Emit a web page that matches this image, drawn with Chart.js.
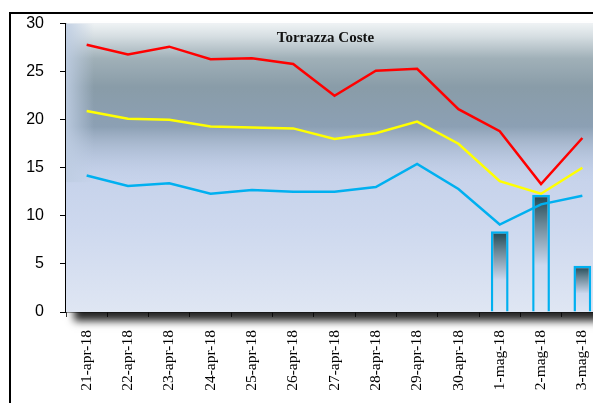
<!DOCTYPE html>
<html>
<head>
<meta charset="utf-8">
<script src="https://cdn.jsdelivr.net/npm/chart.js@4/dist/chart.umd.min.js"></script>
<style>
  body { margin: 0; overflow: hidden; background: #fff; }
  #cornice {
    position: absolute; left: 9px; top: 12px; width: 700px; height: 420px;
    border-left: 2px solid #000; border-top: 2px solid #000;
  }
  #grafico { position: absolute; left: 0; top: -16px; }
</style>
</head>
<body>
<div id="cornice"><canvas id="grafico" width="605" height="405"></canvas></div>
<script>

/* Dati del grafico Torrazza Coste */

var giorni = ['21-apr-18', '22-apr-18', '23-apr-18', '24-apr-18', '25-apr-18', '26-apr-18', '27-apr-18',
              '28-apr-18', '29-apr-18', '30-apr-18', '1-mag-18', '2-mag-18', '3-mag-18'];

var temp_max = [27.8, 26.8, 27.6, 26.3, 26.4, 25.8, 22.5, 25.1, 25.3, 21.1, 18.8, 13.3, 18.1];
var temp_media = [20.9, 20.1, 20.0, 19.3, 19.2, 19.1, 18.0, 18.6, 19.8, 17.5, 13.6, 12.3, 15.0];
var temp_min = [14.2, 13.1, 13.4, 12.3, 12.7, 12.5, 12.5, 13.0, 15.4, 12.8, 9.1, 11.2, 12.1];
var pioggia = [null, null, null, null, null, null, null, null, null, null, 8.4, 12.2, 4.8];

var tacche_y = [0, 5, 10, 15, 20, 25, 30];
var titolo = 'Torrazza Coste';


/* Sfondo dell'area del grafico con ombra e sfumature */

var sfondo = {
  id: 'sfondo',
  beforeDatasetsDraw: function (chart) {
    var ctx = chart.ctx;
    var a = chart.chartArea;
    var w = a.right - a.left;
    var h = a.bottom - a.top;
    ctx.save();

    // ombra sotto l'area
    ctx.shadowColor = 'rgba(0,0,0,0.85)';
    ctx.shadowBlur = 8;
    ctx.shadowOffsetX = 8;
    ctx.shadowOffsetY = 9;
    var base = ctx.createLinearGradient(0, a.top, 0, a.bottom);
    base.addColorStop(0, '#d6dfe8');
    base.addColorStop(0.45, '#c3d0e9');
    base.addColorStop(0.7, '#cdd8ee');
    base.addColorStop(1, '#dfe6f3');
    ctx.fillStyle = base;
    ctx.fillRect(a.left, a.top, w, h);
    ctx.shadowColor = 'transparent';

    // parte scura in alto
    var alto = h * 0.55;
    var scuro = ctx.createLinearGradient(0, a.top, 0, a.top + alto);
    scuro.addColorStop(0, 'rgba(238,242,244,1)');
    scuro.addColorStop(0.08, 'rgba(214,222,226,1)');
    scuro.addColorStop(0.22, 'rgba(160,176,184,1)');
    scuro.addColorStop(0.4, 'rgba(137,156,168,1)');
    scuro.addColorStop(0.65, 'rgba(140,160,180,1)');
    scuro.addColorStop(1, 'rgba(195,208,233,0)');
    ctx.fillStyle = scuro;
    ctx.fillRect(a.left, a.top, w, alto);

    // bordo sinistro piu chiaro
    var lato = ctx.createLinearGradient(a.left, 0, a.left + 28, 0);
    lato.addColorStop(0, 'rgba(190,205,226,0.9)');
    lato.addColorStop(0.5, 'rgba(190,205,226,0.45)');
    lato.addColorStop(1, 'rgba(190,205,226,0)');
    ctx.fillStyle = lato;
    ctx.fillRect(a.left, a.top, 28, alto);

    ctx.restore();
  },
  afterDatasetsDraw: function (chart) {
    var ctx = chart.ctx;
    var a = chart.chartArea;
    ctx.save();
    ctx.font = 'bold 15px "Liberation Serif"';
    ctx.fillStyle = '#111';
    ctx.textAlign = 'center';
    ctx.textBaseline = 'middle';
    ctx.fillText(titolo, (a.left + a.right) / 2 - 9, a.top + 15);
    ctx.restore();
  }
};


/* Colore delle barre della pioggia */

function ColoreBarra(context) {
  var chart = context.chart;
  if (!chart.chartArea) return '#ccd8ee';
  var v = context.raw;
  if (v == null) return '#ccd8ee';
  var y = chart.scales.y;
  var cima = y.getPixelForValue(v);
  var fondo = y.getPixelForValue(0);
  var g = chart.ctx.createLinearGradient(0, cima, 0, fondo);
  g.addColorStop(0, '#1e4651');
  g.addColorStop(0.25, '#6a8796');
  g.addColorStop(0.6, '#ccd8ee');
  g.addColorStop(1, '#dde5f3');
  return g;
}


/* Creazione del grafico */

function Grafico() {
  var ctx = document.getElementById('grafico').getContext('2d');
  new Chart(ctx, {
    type: 'bar',
    data: {
      labels: giorni,
      datasets: [
        { type: 'line', data: temp_max, borderColor: '#ff0000', borderWidth: 2.5, pointRadius: 0, tension: 0, order: 0 },
        { type: 'line', data: temp_media, borderColor: '#ffff00', borderWidth: 2.5, pointRadius: 0, tension: 0, order: 0 },
        { type: 'line', data: temp_min, borderColor: '#00b0f0', borderWidth: 2.5, pointRadius: 0, tension: 0, order: 0 },
        { type: 'bar', data: pioggia, backgroundColor: ColoreBarra, borderColor: '#00b0f0', borderWidth: 2.5,
          barPercentage: 0.43, categoryPercentage: 1, order: 1 }
      ]
    },
    options: {
      responsive: false,
      animation: false,
      layout: { padding: { top: 8, right: 13, left: 0, bottom: 0 } },
      plugins: { legend: { display: false }, tooltip: { enabled: false } },
      scales: {
        x: {
          offset: true,
          grid: { offset: true, drawOnChartArea: false, drawTicks: true, tickLength: 5, color: '#333', lineWidth: 1 },
          border: { color: '#333', width: 1.5 },
          ticks: { minRotation: 90, maxRotation: 90, padding: 13, color: '#000', font: { family: 'Liberation Serif', size: 15.5 } },
          afterFit: function (scale) { scale.height = 91; }
        },
        y: {
          min: 0, max: 30,
          afterBuildTicks: function (scale) { scale.ticks = tacche_y.map(function (v) { return { value: v }; }); },
          grid: { drawOnChartArea: false, drawTicks: true, tickLength: 6, color: '#000' },
          border: { color: '#000', width: 1.5 },
          ticks: { padding: 16, color: '#000', font: { family: 'Liberation Sans', size: 16 } },
          afterFit: function (scale) { scale.width = 55; }
        }
      }
    },
    plugins: [sfondo]
  });
}

Grafico();
</script>
</body>
</html>
